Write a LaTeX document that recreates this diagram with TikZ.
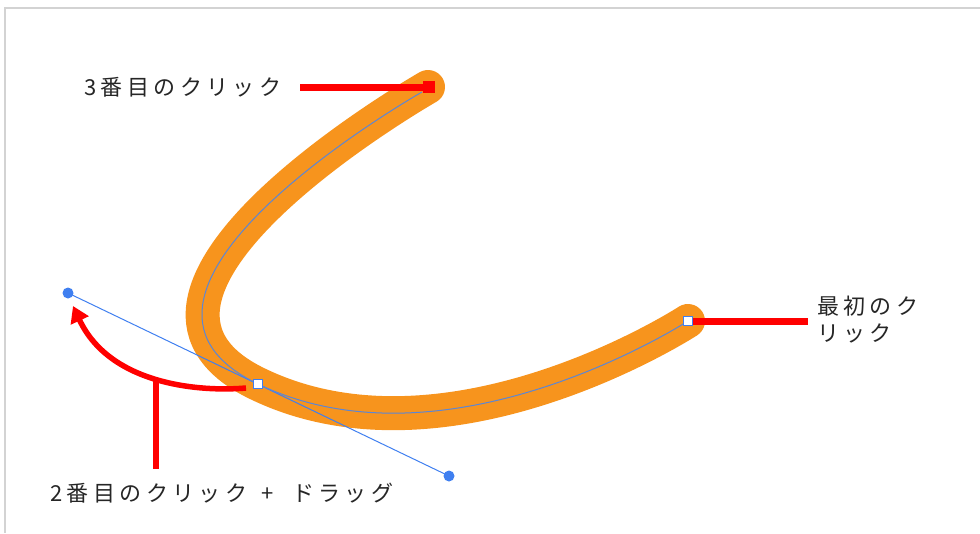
\documentclass[tikz,border=0pt]{standalone}
\usepackage{fontspec}
\newfontfamily\jp[LetterSpace=20]{Noto Sans CJK JP}
\usetikzlibrary{arrows.meta}
\definecolor{brush}{HTML}{F7941D}
\definecolor{pathblue}{HTML}{5B86D6}
\definecolor{handleblue}{HTML}{3F7FF0}
\definecolor{frame}{HTML}{D3D3D3}
\tikzset{
  lbl/.style={font=\jp\fontsize{22}{27}\selectfont, text=black!85, inner sep=0pt, align=left},
  redline/.style={draw=red, line width=7pt},
  anchorbox/.style={draw=handleblue, fill=white, line width=1.5pt, minimum size=9pt, inner sep=0pt},
  handle/.style={circle, fill=handleblue, minimum size=11pt, inner sep=0pt},
}
\begin{document}
\begin{tikzpicture}[x=1pt,y=-1pt]
\useasboundingbox (0,0) rectangle (980,533);
\draw[frame, line width=2pt] (5,533) -- (5,8) -- (980,8);
% orange brush stroke
\draw[brush, line width=34pt, line cap=round, line join=round]
  (688,321) .. controls (688,321) and (449,476) .. (258,384)
  .. controls (68,293) and (428,87) .. (428,87);
% handle line
\coordinate (anc) at (258,384);
\node[handle] (h1) at (68,293) {};
\node[handle] (h2) at (449,476) {};
\draw[handleblue, line width=1pt] (h1.center) -- (h2.center);
% vector path
\draw[pathblue, line width=1pt]
  (688,321) .. controls (688,321) and (449,476) .. (258,384)
  .. controls (68,293) and (422,92) .. (422,92);
% labels
\node[lbl, anchor=west] (t3) at (84,87) {3番目のクリック};
\node[lbl, anchor=west] (t1) at (817,320) {最初のク\\リック};
\node[lbl, anchor=west] (t2) at (50,493) {2番目のクリック\hspace{5pt} + \hspace{9pt}ドラッグ};
% red markers
\node[fill=red, minimum size=12pt, inner sep=0pt] (sq3) at (429,87) {};
\draw[redline] (300,87) -- (sq3.center);
\node[anchorbox] (a1) at (688,321) {};
\draw[redline] (a1.east) -- (808,321);
\node[anchorbox] (a2) at (anc) {};
% red drag arrow
\coordinate (arrs) at (246,388);
\coordinate (arre) at (73,306);
\draw[red, line width=5.5pt, -{Triangle[length=16pt,width=19pt]}]
  (arrs) .. controls (200,392) and (110,385) .. (arre);
\coordinate (vtop) at (156,381);
\coordinate (vbot) at (156,469);
\draw[red, line width=6.5pt] (vtop) -- (vbot);
\end{tikzpicture}
\end{document}
